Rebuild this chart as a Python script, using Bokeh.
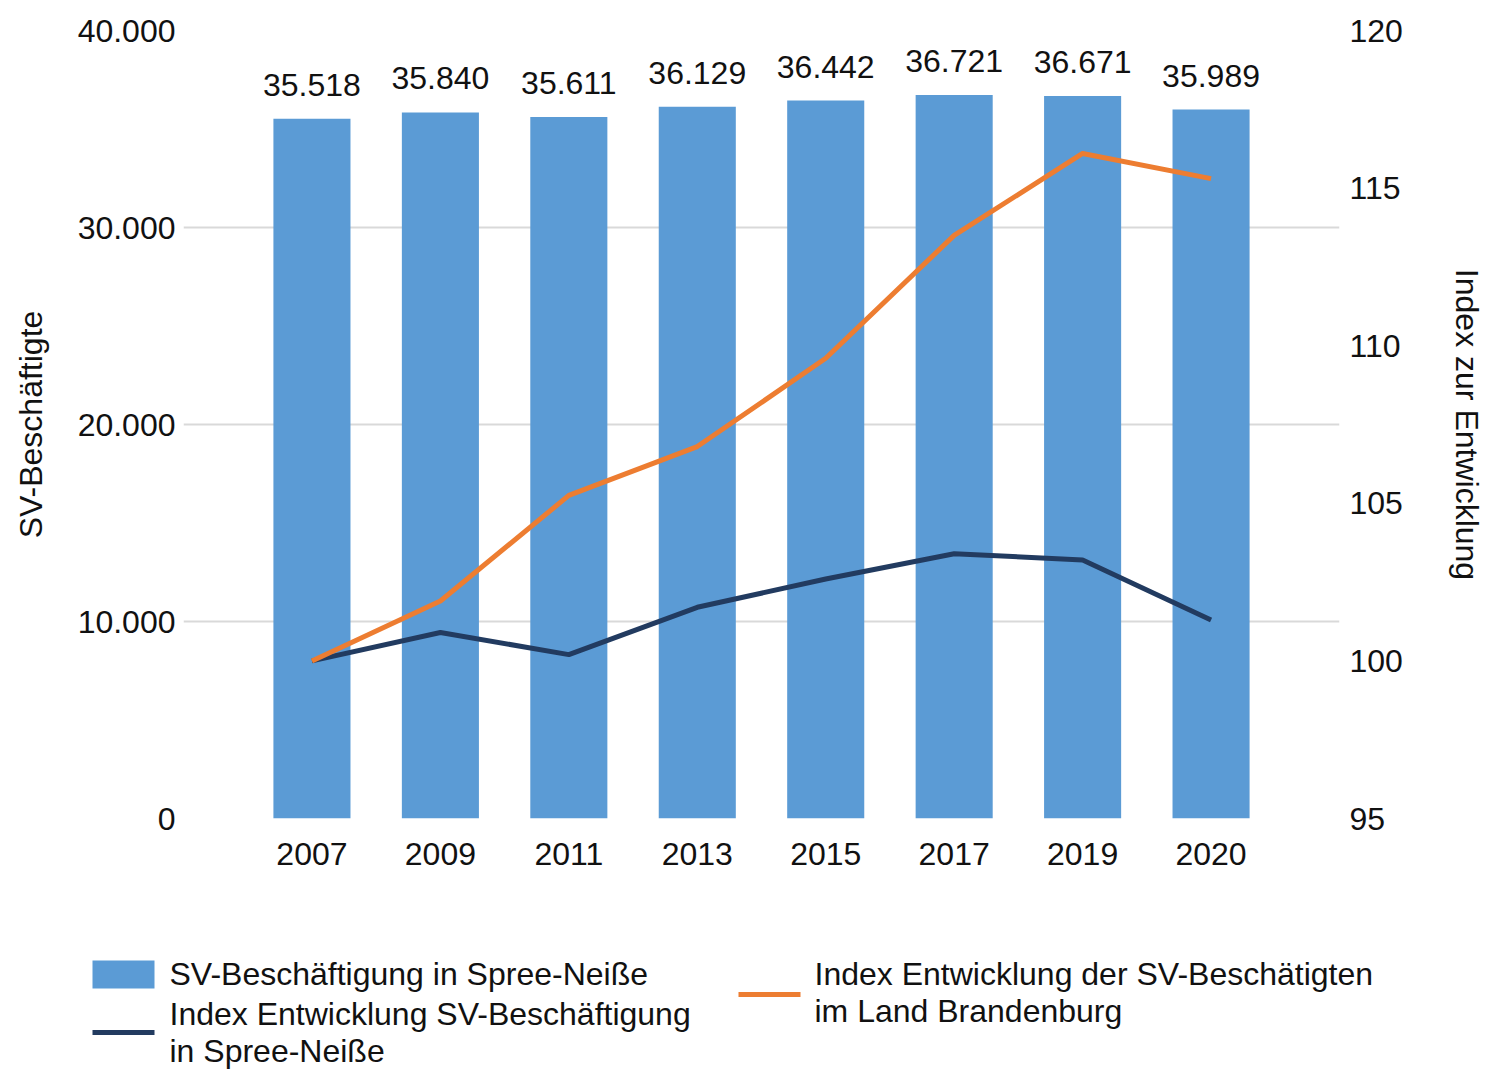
from bokeh.plotting import figure
from bokeh.models import Range1d, LinearAxis, FixedTicker, ColumnDataSource
from bokeh.layouts import column
from bokeh.embed import file_html
from bokeh.resources import INLINE
from bokeh.core.properties import value

years = ["2007", "2009", "2011", "2013", "2015", "2017", "2019", "2020"]
employees = [35518, 35840, 35611, 36129, 36442, 36721, 36671, 35989]
index_spree_neisse = [100.0, 100.9, 100.2, 101.7, 102.6, 103.4, 103.2, 101.3]
index_brandenburg = [100.0, 101.9, 105.25, 106.8, 109.6, 113.5, 116.1, 115.3]
left_ticks = [0, 10000, 20000, 30000, 40000]
right_ticks = [95, 100, 105, 110, 115, 120]

name_bars = "SV-Beschäftigung in Spree-Neiße"
name_spn = ["Index Entwicklung SV-Beschäftigung", "in Spree-Neiße"]
name_bb = ["Index Entwicklung der SV-Beschätigten", "im Land Brandenburg"]
left_title = "SV-Beschäftigte"
right_title = "Index zur Entwicklung"

FONT = "Liberation Sans"
FS = "32px"
BLUE = "#5B9BD5"
ORANGE = "#ED7D31"
DARK = "#223B60"
TXT = "#111111"
GRID = "#D9D9D9"

W, H = 1487, 1069
PH = 900                                  # height of the chart part
FL, FR, FT, FB = 183, 1340, 30, 818       # frame edges in page pixels


def de(v):
    return f"{v:,}".replace(",", ".")


pos = list(range(1, len(years) + 1))
src = ColumnDataSource(dict(
    x=pos, emp=employees, lab=[de(v) for v in employees],
    spn=index_spree_neisse, bb=index_brandenburg,
))

p = figure(width=W, height=PH,
           x_range=Range1d(0, len(years) + 1), y_range=Range1d(0, 40000),
           output_backend="svg", toolbar_location=None,
           min_border_left=FL, min_border_right=W - FR,
           min_border_top=FT, min_border_bottom=PH - FB,
           outline_line_color=None, background_fill_color="white")
p.frame_align = False
p.extra_y_ranges = {"idx": Range1d(95, 120)}


def style_axis(a, standoff):
    a.axis_line_color = None
    a.major_tick_line_color = None
    a.minor_tick_line_color = None
    a.major_tick_out = 0
    a.major_tick_in = 0
    a.minor_tick_out = 0
    a.minor_tick_in = 0
    a.major_label_standoff = standoff
    a.major_label_text_font = FONT
    a.major_label_text_font_size = FS
    a.major_label_text_color = TXT
    a.axis_label_text_font = FONT
    a.axis_label_text_font_size = FS
    a.axis_label_text_font_style = "normal"
    a.axis_label_text_color = TXT


ya = p.yaxis[0]
ya.ticker = FixedTicker(ticks=left_ticks)
ya.major_label_overrides = {t: de(t) for t in left_ticks}
style_axis(ya, 8)
ya.axis_label = left_title
ya.axis_label_standoff = 26

xa = p.xaxis[0]
xa.ticker = FixedTicker(ticks=pos)
xa.major_label_overrides = {i: y for i, y in zip(pos, years)}
style_axis(xa, 24)

ra = LinearAxis(y_range_name="idx", ticker=FixedTicker(ticks=right_ticks))
style_axis(ra, 10)
ra.axis_label = right_title
ra.axis_label_standoff = 43
p.add_layout(ra, "right")

p.xgrid.grid_line_color = None
p.ygrid.grid_line_color = GRID
p.ygrid.grid_line_width = 2

p.vbar(x="x", top="emp", width=0.6, source=src, fill_color=BLUE, line_color=None)
p.line(x="x", y="spn", source=src, y_range_name="idx", line_color=DARK,
       line_width=5, line_join="round")
p.line(x="x", y="bb", source=src, y_range_name="idx", line_color=ORANGE,
       line_width=5, line_join="round")
p.text(x="x", y="emp", text="lab", source=src, text_align="center",
       text_baseline="alphabetic", y_offset=-34,
       text_font=value(FONT), text_font_size=value(FS), text_color=TXT)

# ---- legend panel: its own figure whose ranges equal page pixels
lg = figure(width=W, height=H - PH, x_range=Range1d(0, W),
            y_range=Range1d(H, PH), output_backend="svg",
            toolbar_location=None, x_axis_type=None, y_axis_type=None,
            min_border=0, min_border_left=0, min_border_right=0,
            min_border_top=0, min_border_bottom=0, outline_line_color=None)
lg.frame_align = False
lg.grid.visible = False
lg.quad(left=[92], right=[154], top=[960], bottom=[988], fill_color=BLUE, line_color=None)
lg.segment(x0=[92], x1=[154], y0=[1032], y1=[1032], line_color=DARK, line_width=5)
lg.segment(x0=[738], x1=[800], y0=[994], y1=[994], line_color=ORANGE, line_width=5)
lg.text(x=[169, 169, 169, 814, 814],
        y=[973, 1013, 1050, 973, 1010],
        text=[name_bars, name_spn[0], name_spn[1], name_bb[0], name_bb[1]],
        text_align="left", text_baseline="middle",
        text_font=value(FONT), text_font_size=value(FS), text_color=TXT)

layout = column(p, lg, spacing=0)
open("out.html", "w").write(file_html(layout, INLINE))
